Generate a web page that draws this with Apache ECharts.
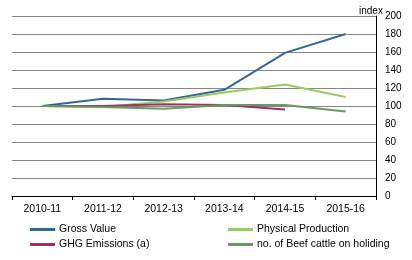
<!DOCTYPE html>
<html>
<head>
<meta charset="utf-8">
<script src="https://cdn.jsdelivr.net/npm/echarts@6/dist/echarts.min.js"></script>
<style>
  html, body { margin: 0; padding: 0; background: #fff; }
  #chart { width: 412px; height: 260px; }
</style>
</head>
<body>
<div id="chart"></div>
<script>
// financial years on the x axis
var years = ['2010-11', '2011-12', '2012-13', '2013-14', '2014-15', '2015-16'];

// index values (2010-11 = 100)
var grossValue = [100, 108, 106, 118, 159, 180];
var physicalProduction = [100, 99, 105, 115, 124, 110];
var ghgEmissions = [100, 100, 102, 101, 96, null];
var beefCattle = [100, 99, 97, 101, 101, 94];

var seriesNames = ['Gross Value', 'Physical Production', 'GHG Emissions (a)', 'no. of Beef cattle on holiding'];
var seriesColors = ['#33669a', '#99cc5c', '#993366', '#679a5f'];

var font = 'Liberation Sans, Arial, sans-serif';

var myChart = echarts.init(document.getElementById('chart'));

function makeLine(name, data, color) {
  return {
    name: name,
    type: 'line',
    data: data,
    symbol: 'none',
    connectNulls: false,
    lineStyle: { width: 2, color: color },
    itemStyle: { color: color }
  };
}

var legendBase = {
  orient: 'vertical',
  top: 224,
  padding: 0,
  itemWidth: 25,
  itemHeight: 3,
  itemGap: 4,
  icon: 'rect',
  textStyle: { fontFamily: font, fontSize: 10.5, color: '#000', padding: [0, 0, 0, -1] }
};

myChart.setOption({
  animation: false,
  title: {
    text: 'index',
    left: 354,
    top: 1,
    textStyle: { fontFamily: font, fontSize: 10, fontWeight: 'normal', color: '#000' }
  },
  legend: [
    Object.assign({}, legendBase, { left: 30, data: [seriesNames[0], seriesNames[2]] }),
    Object.assign({}, legendBase, { left: 228, data: [seriesNames[1], seriesNames[3]] })
  ],
  grid: { left: 12, right: 36, top: 16, bottom: 64 },
  xAxis: {
    type: 'category',
    data: years,
    boundaryGap: true,
    axisLine: { lineStyle: { color: '#000', width: 1 } },
    axisTick: { show: true, length: 4, inside: false, lineStyle: { color: '#000' } },
    axisLabel: { fontFamily: font, fontSize: 10.5, color: '#000', margin: 8 }
  },
  yAxis: {
    type: 'value',
    position: 'right',
    min: 0,
    max: 200,
    interval: 20,
    axisLine: { show: true, lineStyle: { color: '#000', width: 1 } },
    axisTick: { show: false },
    axisLabel: { fontFamily: font, fontSize: 10, color: '#000', margin: 9, align: 'left' },
    splitLine: { lineStyle: { color: '#868686', width: 1 } }
  },
  series: [
    makeLine(seriesNames[0], grossValue, seriesColors[0]),
    makeLine(seriesNames[1], physicalProduction, seriesColors[1]),
    makeLine(seriesNames[2], ghgEmissions, seriesColors[2]),
    makeLine(seriesNames[3], beefCattle, seriesColors[3])
  ]
});
</script>
</body>
</html>
